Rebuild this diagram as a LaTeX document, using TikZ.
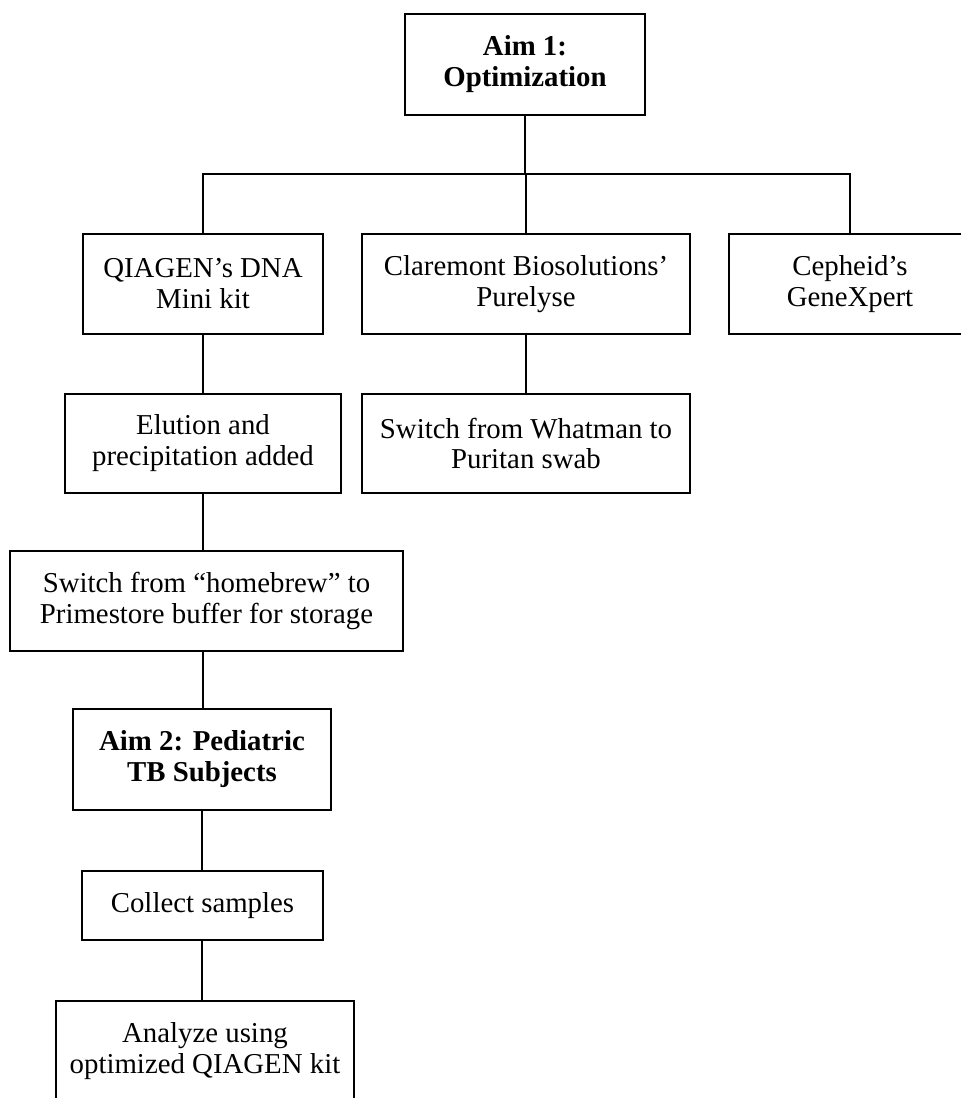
\documentclass[tikz,border=0pt]{standalone}
\usepackage{fontspec}
\setmainfont{Liberation Serif}
\usepackage{tikz}
\usetikzlibrary{positioning}

\begin{document}
\begin{tikzpicture}[
    box/.style={draw, line width=1.3pt, align=center, inner sep=0pt,
        font=\fontsize{16.4}{17.6}\selectfont},
    aimbox/.style={box, font=\fontsize{16.4}{17.6}\selectfont\bfseries},
    link/.style={line width=1.3pt}
]
\useasboundingbox (0,0) rectangle (19.22,-21.96);
% Aim 1 and its three branches
\node[aimbox, minimum width=4.8cm, minimum height=2.02cm] (aim1) at (10.50,-1.29) {Aim 1:\\Optimization};
\coordinate (split) at (10.50,-3.48);
\node[box, minimum width=4.8cm, minimum height=2cm] (qiagen) at (4.06,-5.68) {QIAGEN’s DNA\\Mini kit};
\node[box, minimum width=6.56cm, minimum height=2cm] (claremont) at (10.52,-5.68) {Claremont Biosolutions’\\Purelyse};
\node[box, minimum width=4.84cm, minimum height=2cm] (cepheid) at (17.00,-5.68) {Cepheid’s\\GeneXpert};
% Changes made during optimization
\node[box, minimum width=5.52cm, minimum height=1.98cm] (elution) at (4.06,-8.87) {Elution and\\precipitation added};
\node[box, minimum width=6.56cm, minimum height=1.98cm] (whatman) at (10.52,-8.87) {Switch from Whatman to\\Puritan swab};
\node[box, minimum width=7.86cm, minimum height=2cm] (prime) at (4.13,-12.02) {Switch from “homebrew” to\\Primestore buffer for storage};
% Aim 2
\node[aimbox, minimum width=5.16cm, minimum height=2.02cm] (aim2) at (4.04,-15.19) {Aim 2: Pediatric\\TB Subjects};
\node[box, minimum width=4.82cm, minimum height=1.38cm] (collect) at (4.05,-18.11) {Collect samples};
\node[box, minimum width=5.96cm, minimum height=2cm] (analyze) at (4.10,-21.02) {Analyze using\\optimized QIAGEN kit};
% Connectors
\draw[link] (aim1.south) -- (split);
\draw[link] (split) -| (qiagen.north);
\draw[link] (split) -| (claremont.north);
\draw[link] (split) -| (cepheid.north);
\draw[link] (qiagen.south) -- (elution.north);
\draw[link] (claremont.south) -- (whatman.north);
\draw[link] (elution.south) -- (elution.south |- prime.north);
\draw[link] (elution.south |- prime.south) -- (elution.south |- aim2.north);
\draw[link] (aim2.south) -- (aim2.south |- collect.north);
\draw[link] (aim2.south |- collect.south) -- (aim2.south |- analyze.north);
\end{tikzpicture}
\end{document}
